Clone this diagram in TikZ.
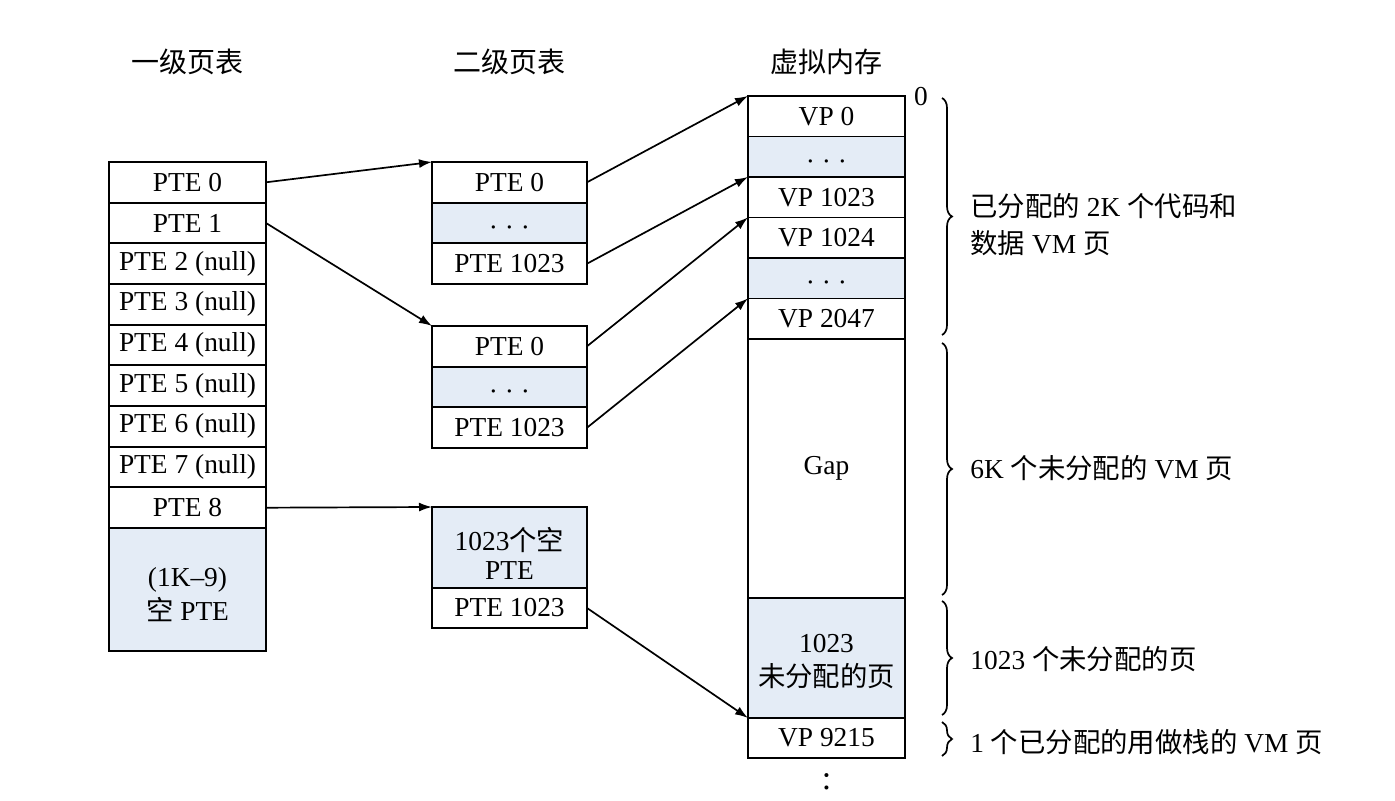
\documentclass[tikz,border=0pt]{standalone}
\usepackage{fontspec}
\setmainfont{Liberation Serif}
\newfontfamily\cjk{Noto Sans CJK SC}
\usetikzlibrary{arrows.meta,decorations.pathreplacing}
\definecolor{paleblue}{RGB}{228,236,246}
\newcommand{\mydots}{·~·~·}
\begin{document}
\begin{tikzpicture}[x=0.5pt,y=-0.5pt,
  font=\fontsize{13.7}{17}\selectfont,
  cell/.style={draw, line width=0.85pt, inner sep=0pt, outer sep=0pt, minimum height=20.33pt, align=center},
  colA/.style={cell, minimum width=78.5pt},
  colB/.style={cell, minimum width=77.5pt},
  colC/.style={cell, minimum width=78.5pt},
  pale/.style={fill=paleblue},
  dotrow/.style={pale, text height=13.5pt, text depth=0pt},
  txt/.style={align=center, inner sep=0pt},
  arr/.style={-{Latex[length=6.5pt,width=4.5pt]}, line width=0.85pt},
  brc/.style={decorate, decoration={brace, amplitude=5pt}, line width=0.85pt},
  note/.style={anchor=west, inner sep=0pt},
  title/.style={font=\cjk\fontsize{14}{16}\selectfont}]
\useasboundingbox (0,0) rectangle (1395,801);

% titles
\node[title] (h1) at (187.5,62) {一级页表};
\node[title] (h2) at (509.5,62) {二级页表};
\node[title] (h3) at (826.5,62) {虚拟内存};

% level 1 page table
\node[colA] (a0) at (187.5,182.3) {PTE 0};
\node[colA] (a1) at (187.5,223) {PTE 1};
\node[colA] (a2) at (187.5,263.7) {PTE 2 (null)};
\node[colA] (a3) at (187.5,304.3) {PTE 3 (null)};
\node[colA] (a4) at (187.5,345) {PTE 4 (null)};
\node[colA] (a5) at (187.5,385.7) {PTE 5 (null)};
\node[colA] (a6) at (187.5,426.3) {PTE 6 (null)};
\node[colA] (a7) at (187.5,467) {PTE 7 (null)};
\node[colA] (a8) at (187.5,507.7) {PTE 8};
\node[colA, pale, minimum height=61.5pt] (a9) at (187.5,589.5) {};
\node[txt] (a9t) at (187.5,595) {(1K\textendash 9)\\{\cjk 空} PTE};

% level 2 page tables
\node[colB] (b0) at (509.5,182.3) {PTE 0};
\node[colB, dotrow] (b1) at (509.5,223) {\mydots};
\node[colB] (b2) at (509.5,263.7) {PTE 1023};

\node[colB] (c0) at (509.5,346.3) {PTE 0};
\node[colB, dotrow] (c1) at (509.5,387) {\mydots};
\node[colB] (c2) at (509.5,427.7) {PTE 1023};

\node[colB, pale, minimum height=40.5pt] (d0) at (509.5,547.5) {};
\node[txt, font=\fontsize{13.7}{14.5}\selectfont] (d0t) at (509.5,553) {1023{\cjk 个空}\\PTE};
\node[colB] (d1) at (509.5,608) {PTE 1023};

% virtual memory
\node[colC] (v0) at (826.5,116.25) {VP 0};
\node[colC, dotrow] (v1) at (826.5,156.75) {\mydots};
\node[colC] (v2) at (826.5,197.25) {VP 1023};
\node[colC] (v3) at (826.5,237.75) {VP 1024};
\node[colC, dotrow] (v4) at (826.5,278.25) {\mydots};
\node[colC] (v5) at (826.5,318.75) {VP 2047};
\node[colC, minimum height=129.5pt] (v6) at (826.5,468.5) {Gap};
\node[colC, pale, minimum height=60pt] (v7) at (826.5,658) {};
\node[txt] (v7t) at (826.5,662) {1023\\{\cjk 未分配的页}};
\node[colC] (v8) at (826.5,738) {VP 9215};
\node[font=\fontsize{17}{17}\selectfont] (vd) at (826.5,781.5) {:};

% arrows
\draw[arr] (a0.east) -- (b0.north west);
\draw[arr] (a1.east) -- (c0.north west);
\draw[arr] (a8.east) -- (d0.north west);
\draw[arr] (b0.east) -- (v0.north west);
\draw[arr] (b2.east) -- (v2.north west);
\draw[arr] (c0.east) -- (v3.north west);
\draw[arr] (c2.east) -- (v5.north west);
\draw[arr] (d1.east) -- (v7.south west);

% braces
\node (z0) at (921,97) {0};
\draw[brc] (942,98) -- (942,335);
\draw[brc] (942,343) -- (942,595);
\draw[brc] (942,601) -- (942,715);
\draw[brc] (942,722) -- (942,756);

\node[note] (t1) at (970,206) {{\cjk 已分配的} 2K {\cjk 个代码和}};
\node[note] (t2) at (970,243) {{\cjk 数据} VM {\cjk 页}};
\node[note] (t3) at (970,468) {6K {\cjk 个未分配的} VM {\cjk 页}};
\node[note] (t4) at (970,659) {1023 {\cjk 个未分配的页}};
\node[note] (t5) at (970,742) {1 {\cjk 个已分配的用做栈的} VM {\cjk 页}};
\end{tikzpicture}
\end{document}
